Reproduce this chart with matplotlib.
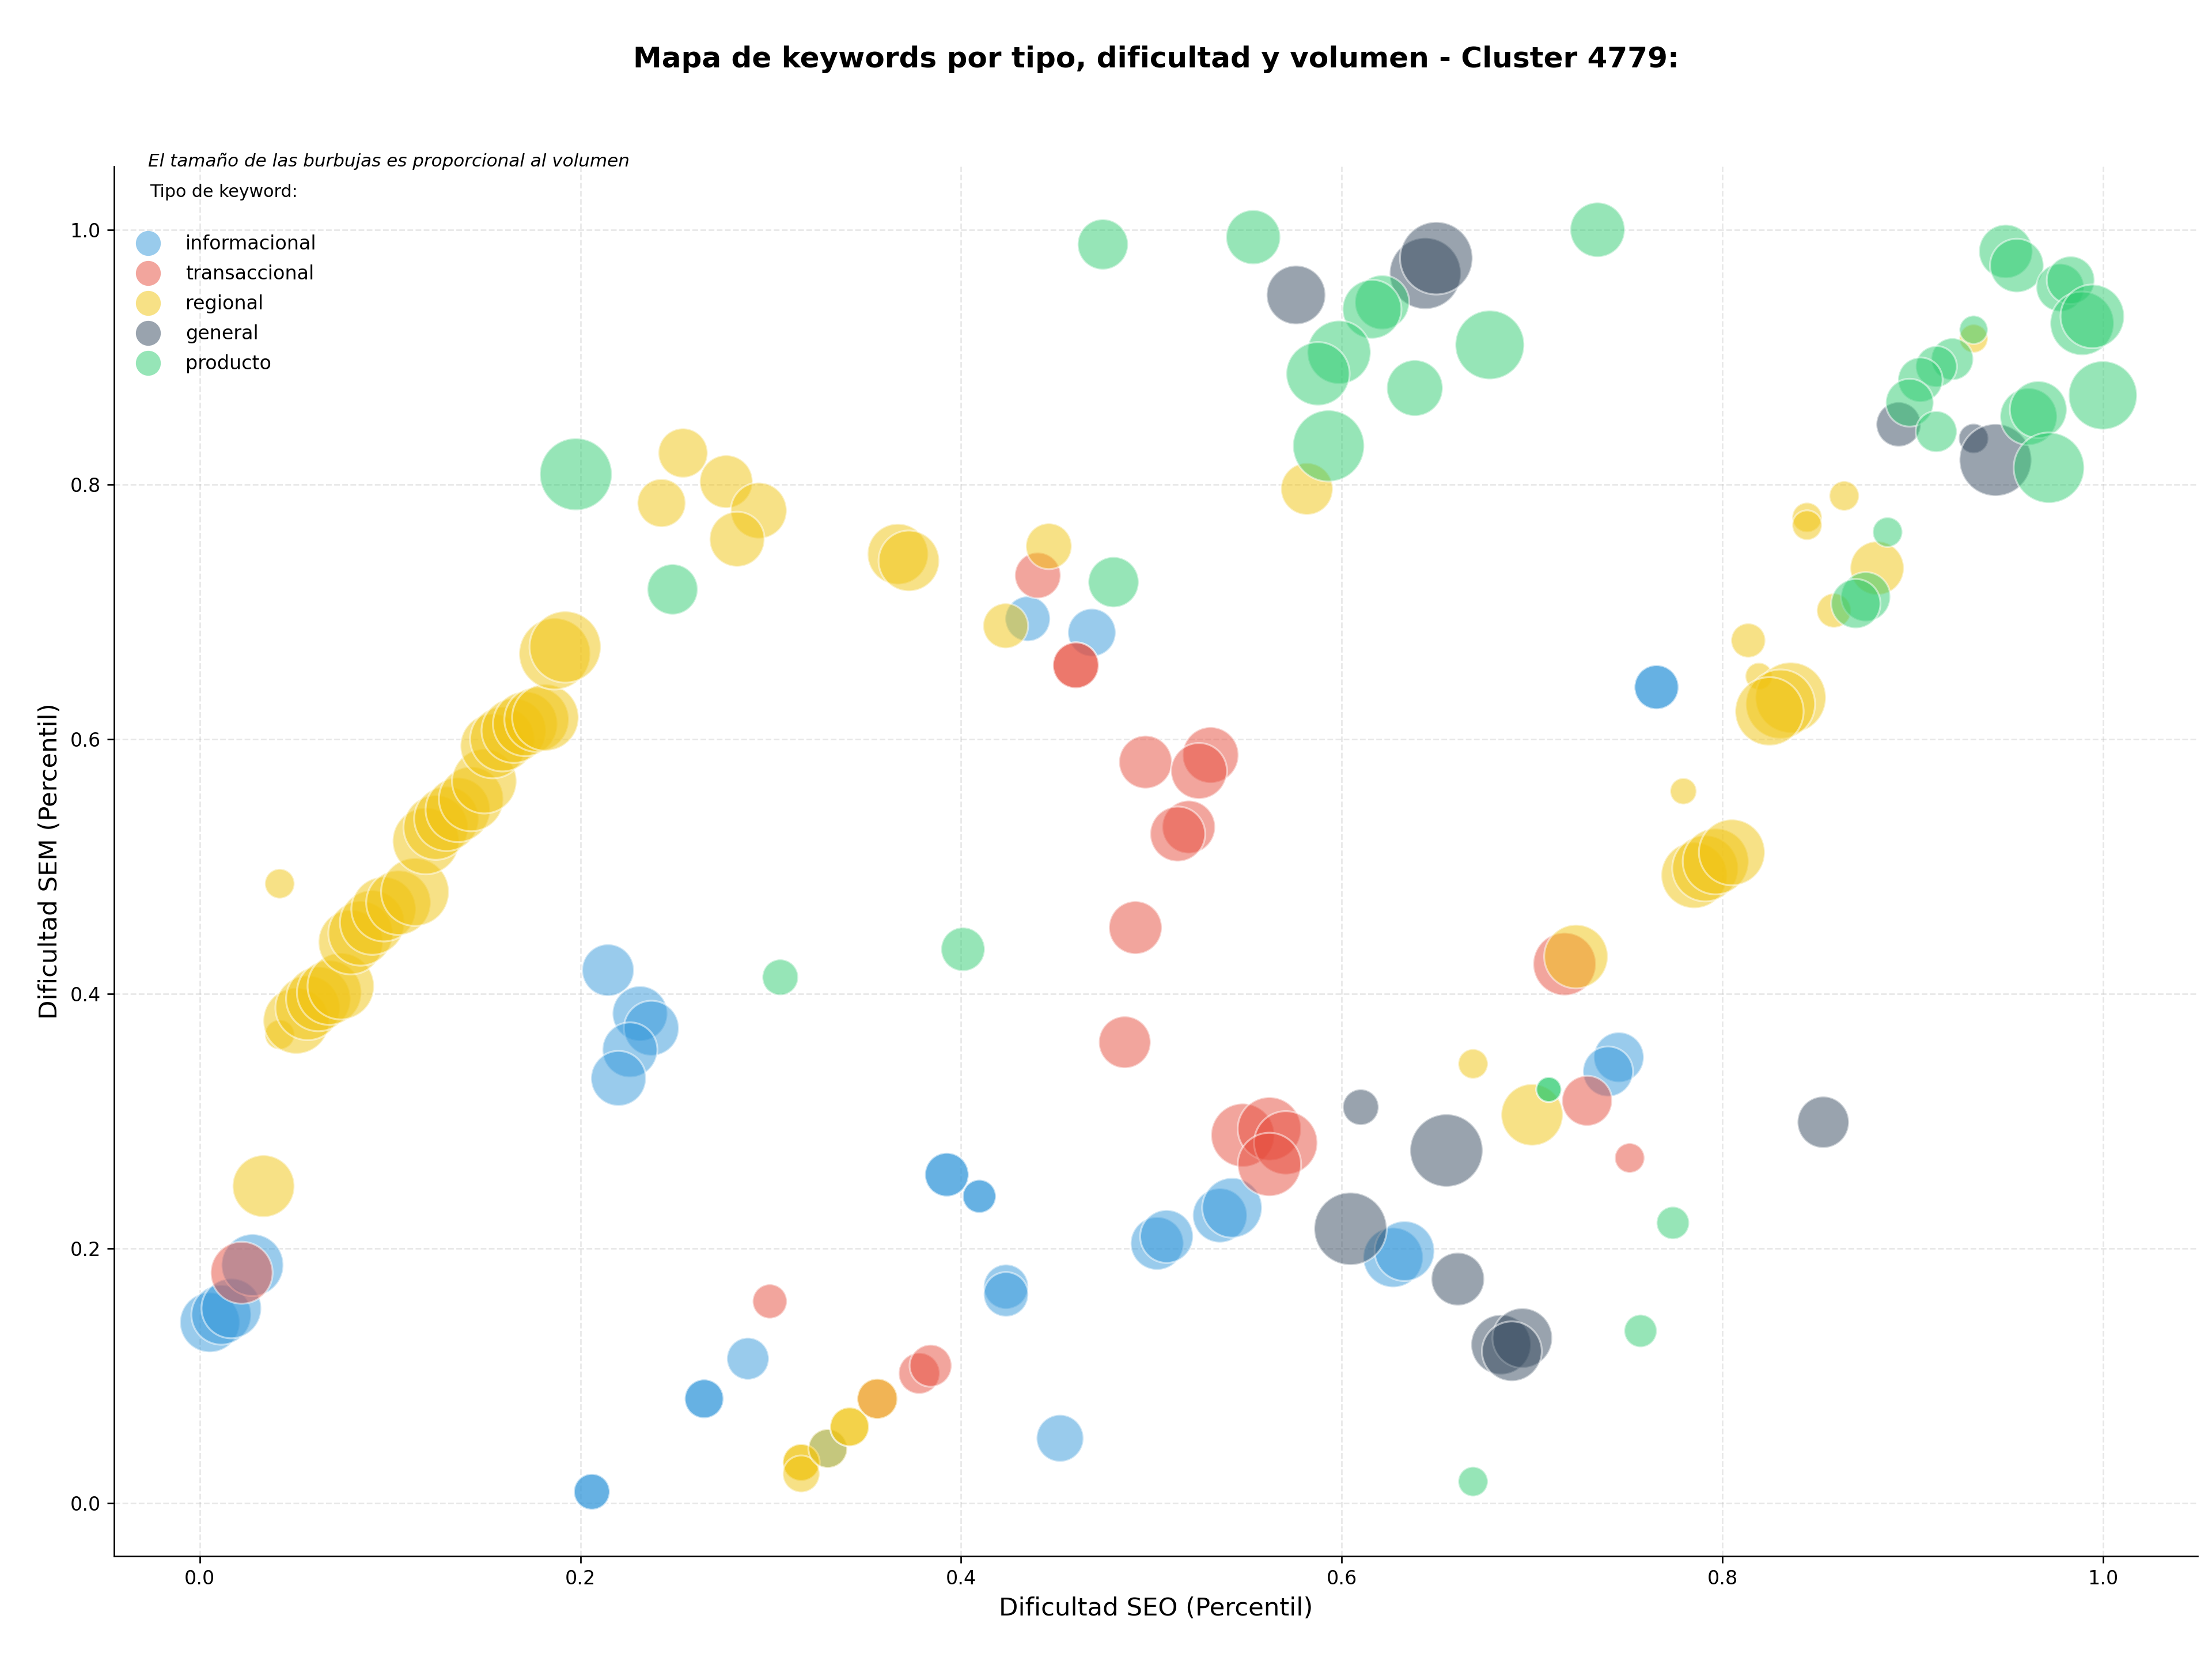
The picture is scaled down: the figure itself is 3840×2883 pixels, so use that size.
import matplotlib.pyplot as plt
from matplotlib.lines import Line2D

# ---- datos: dificultad SEO (x), dificultad SEM (y), volumen (tamaño) ----
tipos = ["informacional", "transaccional", "regional", "general", "producto"]
colores = {"informacional": "#3498db", "transaccional": "#e74c3c",
           "regional": "#f1c40f", "general": "#34495e", "producto": "#2ecc71"}

seo_info = [0.0053, 0.0113, 0.0166, 0.0277, 0.2145, 0.2313, 0.2373, 0.226, 0.220,
            0.288, 0.265, 0.265, 0.206, 0.206, 0.3925, 0.3925, 0.4096, 0.4096,
            0.4236, 0.4236, 0.452, 0.503, 0.508, 0.536, 0.5424, 0.627, 0.633,
            0.435, 0.4687, 0.7654, 0.7654, 0.7456, 0.7399, 0.330]
sem_info = [0.142, 0.148, 0.153, 0.187, 0.4186, 0.3845, 0.373, 0.356, 0.3336,
            0.1135, 0.082, 0.082, 0.009, 0.009, 0.258, 0.258, 0.241, 0.241,
            0.170, 0.164, 0.051, 0.204, 0.2095, 0.226, 0.232, 0.193, 0.198,
            0.6945, 0.6837, 0.6408, 0.6408, 0.3502, 0.339, 0.043]
vol_info = [97, 97, 97, 104, 73, 82, 82, 82, 82,
            48, 41, 41, 35, 35, 52, 52, 30, 30,
            54, 54, 60, 76, 76, 80, 97, 97, 97,
            55, 62, 53, 53, 68, 68, 41]

seo_trans = [0.022, 0.2995, 0.378, 0.384, 0.356, 0.4403, 0.4603, 0.4603, 0.4969,
             0.5311, 0.525, 0.5196, 0.5138, 0.4916, 0.486, 0.548, 0.562, 0.5706,
             0.562, 0.7171, 0.7289, 0.7513]
sem_trans = [0.181, 0.1585, 0.102, 0.108, 0.082, 0.7286, 0.658, 0.658, 0.582,
             0.5875, 0.575, 0.531, 0.5255, 0.452, 0.362, 0.289, 0.294, 0.283,
             0.266, 0.4234, 0.316, 0.2711]
vol_trans = [104, 32, 46, 48, 44, 57, 57, 57, 76,
             85, 85, 76, 82, 76, 73, 109, 109, 109,
             109, 107, 68, 24]

seo_reg = [0.0335, 0.042, 0.042,
           0.0507, 0.0567, 0.0623, 0.068, 0.0741,
           0.0793, 0.0845, 0.0906, 0.0966, 0.1044, 0.1131,
           0.1188, 0.124, 0.1296, 0.1356, 0.1426, 0.1495,
           0.1539, 0.159, 0.165, 0.171, 0.177, 0.1816,
           0.1865, 0.192,
           0.2426, 0.2539, 0.2766, 0.2937, 0.2823, 0.3668, 0.3726, 0.4461, 0.4234,
           0.5817, 0.669, 0.700, 0.7231, 0.316, 0.316, 0.316, 0.330, 0.3414, 0.3414,
           0.356, 0.932, 0.864, 0.8445, 0.8445, 0.8813, 0.8586, 0.8136, 0.8192,
           0.8359, 0.8305, 0.8247, 0.7795, 0.7852, 0.791, 0.7965, 0.805]
sem_reg = [0.249, 0.4865, 0.368,
           0.3788, 0.389, 0.396, 0.401, 0.406,
           0.4406, 0.4475, 0.456, 0.4665, 0.4716, 0.480,
           0.520, 0.5306, 0.5375, 0.5445, 0.553, 0.567,
           0.5946, 0.600, 0.6067, 0.612, 0.6154, 0.617,
           0.667, 0.6724,
           0.7854, 0.8247, 0.8022, 0.7795, 0.757, 0.7453, 0.740, 0.7515, 0.689,
           0.7965, 0.345, 0.305, 0.4293, 0.032, 0.032, 0.023, 0.043, 0.060, 0.060,
           0.082, 0.9146, 0.791, 0.7741, 0.768, 0.7343, 0.701, 0.6775, 0.6494,
           0.6326, 0.6275, 0.6218, 0.5591, 0.4931, 0.4985, 0.504, 0.5111]
vol_reg = [104, 24, 24,
           118, 113, 113, 113, 120,
           113, 113, 113, 113, 113, 125,
           120, 113, 113, 113, 113, 113,
           113, 113, 113, 113, 113, 120,
           138, 138,
           63, 66, 76, 85, 82, 100, 100, 57, 55,
           73, 24, 103, 110, 37, 37, 37, 41, 41, 41,
           44, 22, 24, 24, 24, 78, 32, 32, 20,
           135, 130, 127, 19, 118, 118, 118, 118]

seo_gen = [0.576, 0.6439, 0.6497, 0.610, 0.655, 0.6046, 0.661, 0.6837, 0.6949,
           0.6894, 0.853, 0.8926, 0.932, 0.9435]
sem_gen = [0.9488, 0.9657, 0.9777, 0.311, 0.277, 0.2155, 0.176, 0.1245, 0.1297,
           0.1193, 0.2992, 0.8472, 0.8361, 0.8192]
vol_gen = [94, 138, 143, 35, 143, 143, 76, 97, 97,
           97, 72, 54, 24, 141]

seo_prod = [0.1976, 0.2484, 0.305, 0.401, 0.4745, 0.5535, 0.4801, 0.6212, 0.6159,
            0.5986, 0.5875, 0.6778, 0.6384, 0.5931, 0.7344, 0.9489, 0.9547, 0.9775,
            0.983, 0.989, 0.9944, 0.9999, 0.932, 0.9208, 0.9124, 0.904, 0.8984,
            0.9124, 0.9609, 0.966, 0.9716, 0.8868, 0.8753, 0.8701, 0.7088, 0.7088,
            0.774, 0.757, 0.669]
sem_prod = [0.808, 0.7176, 0.413, 0.435, 0.9885, 0.9942, 0.7233, 0.943, 0.9376,
            0.9038, 0.8869, 0.9096, 0.8757, 0.8303, 1.0, 0.983, 0.9719, 0.9546,
            0.9604, 0.9265, 0.932, 0.870, 0.9215, 0.8984, 0.8926, 0.8822, 0.8642,
            0.8415, 0.8533, 0.8588, 0.8131, 0.7626, 0.7118, 0.7064, 0.3249, 0.3249,
            0.2201, 0.1353, 0.017]
vol_prod = [141, 69, 35, 52, 69, 80, 69, 80, 94,
            109, 109, 129, 85, 138, 81, 78, 78, 62,
            62, 110, 110, 127, 22, 48, 46, 54, 62,
            46, 88, 88, 135, 24, 66, 66, 17, 17,
            29, 29, 24]

datos = {
    "informacional": (seo_info, sem_info, vol_info),
    "transaccional": (seo_trans, sem_trans, vol_trans),
    "regional": (seo_reg, sem_reg, vol_reg),
    "general": (seo_gen, sem_gen, vol_gen),
    "producto": (seo_prod, sem_prod, vol_prod),
}

# ---- figura ----
fig = plt.figure(figsize=(16, 12.0125), dpi=240)
ax = fig.add_axes([0.0516, 0.0631, 0.9419, 0.8366])

for tipo in tipos:
    x, y, v = datos[tipo]
    ax.scatter(x, y, s=[vv * 10 for vv in v], c=colores[tipo], alpha=0.5,
               edgecolors="white", linewidths=1, zorder=3)

ax.set_xlim(-0.045, 1.0497)
ax.set_ylim(-0.0416, 1.0496)
ax.set_xticks([0.0, 0.2, 0.4, 0.6, 0.8, 1.0])
ax.set_yticks([0.0, 0.2, 0.4, 0.6, 0.8, 1.0])
ax.grid(True, linestyle="--", alpha=0.3, zorder=0)
ax.set_axisbelow(True)
ax.spines["top"].set_visible(False)
ax.spines["right"].set_visible(False)
ax.tick_params(labelsize=10)

ax.set_xlabel("Dificultad SEO (Percentil)", fontsize=13)
ax.set_ylabel("Dificultad SEM (Percentil)", fontsize=13)

ax.text(0.5, 1.077, "Mapa de keywords por tipo, dificultad y volumen - Cluster 4779:",
        transform=ax.transAxes, ha="center", va="center", fontsize=15, fontweight="bold")
ax.text(0.0163, 1.004, "El tamaño de las burbujas es proporcional al volumen",
        transform=ax.transAxes, ha="left", va="center", fontsize=9.3, style="italic")
ax.text(0.017, 0.9818, "Tipo de keyword:", transform=ax.transAxes,
        ha="left", va="center", fontsize=9)

handles = [Line2D([], [], marker="o", linestyle="none", markersize=13,
                  markerfacecolor=colores[t], markeredgecolor="none", alpha=0.5, label=t)
           for t in tipos]
ax.legend(handles=handles, loc="upper left", bbox_to_anchor=(0.0094, 0.951),
          frameon=False, fontsize=10, handlelength=1.5, handletextpad=1.2,
          labelspacing=0.57, borderpad=0, borderaxespad=0)

fig.savefig("out.png", dpi=240)
